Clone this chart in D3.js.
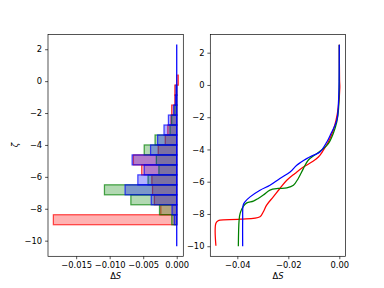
<!DOCTYPE html>
<html><head><meta charset="utf-8">
<script src="https://cdn.jsdelivr.net/npm/d3@7"></script>
<style>body{margin:0;background:#fff}svg{display:block;font-family:"DejaVu Sans",sans-serif}</style>
</head><body><svg id="c" width="384" height="288"></svg>
<script>
// ---- data ----
const zetaBins = [0.0625, -0.5625, -1.1875, -1.8125, -2.4375, -3.0625, -3.6875, -4.3125, -4.9375, -5.5625, -6.1875, -6.8125, -7.4375, -8.0625, -8.6875];
const binHeight = 0.625;
const redBars   = [0.00024, -0.00029, -0.00029, -0.00076, -0.00086, -0.00133, -0.00171, -0.00276, -0.00646, -0.00523, -0.00371, -0.00361, -0.00333, -0.00238, -0.0184];
const greenBars = [0, -0.00005, -0.0001, -0.00029, -0.00076, -0.001, -0.00323, -0.00485, -0.00304, -0.00266, -0.00428, -0.01078, -0.00684, -0.00257, -0.00074];
const blueBars  = [0, -0.0001, -0.00019, -0.00048, -0.00124, -0.0019, -0.00285, -0.0039, -0.00665, -0.00485, -0.0058, -0.0077, -0.0038, -0.0007, -0.00036];
const blueRefZeta = [2.29, -10.35];

const redZeta  = [2.5, 0.3, -0.15, -1.38, -2.2, -2.82, -3.54, -4.06, -4.47, -4.78, -5.09, -5.49, -5.91, -6.42, -6.94, -7.45, -7.86, -8.17, -8.32, -8.38, -8.42, -8.58, -9.97];
const redDS    = [0, 0.0001, 0.0002, -0.0004, -0.0013, -0.0024, -0.0043, -0.0063, -0.0082, -0.0108, -0.0141, -0.0174, -0.0206, -0.0233, -0.0259, -0.0285, -0.0298, -0.0311, -0.0389, -0.0468, -0.0475, -0.0484, -0.0484];
const greenZeta = [2.5, -1.5, -2.31, -3.02, -3.64, -3.95, -4.26, -4.67, -5.19, -5.80, -6.22, -6.38, -6.42, -6.52, -6.83, -7.04, -7.20, -7.31, -7.51, -7.96, -8.38, -10.0];
const greenDS   = [0, -0.0003, -0.0010, -0.0024, -0.0043, -0.0063, -0.0089, -0.0122, -0.0141, -0.0161, -0.0180, -0.0206, -0.0239, -0.0272, -0.0298, -0.0318, -0.0337, -0.0363, -0.0376, -0.0389, -0.0393, -0.0396];
const blueZeta = [2.5, 0, -1.0, -2.2, -3.13, -3.54, -4.16, -4.36, -4.57, -4.98, -5.40, -5.80, -6.22, -6.53, -6.94, -7.25, -7.45, -8.37, -10.0];
const blueDS   = [0, -0.0001, -0.0003, -0.0010, -0.0036, -0.0049, -0.0076, -0.0102, -0.0128, -0.0167, -0.0193, -0.0233, -0.0272, -0.0311, -0.0350, -0.0370, -0.0377, -0.0379, -0.0379];

const leftXTicks = [-0.015, -0.010, -0.005, 0.000];
const rightXTicks = [-0.04, -0.02, 0.00];
const yTicks = [2, 0, -2, -4, -6, -8, -10];

// ---- layout ----
const svg = d3.select("#c");
const plotTop = 34.56, plotBottom = 256.3;
const L = {x0: 48, x1: 183.3}, R = {x0: 210.3, x1: 345.6};
const fs = 8.33, tickLen = 2.92, lw = 1.25;
const fmtMinus = s => s.replace("-", "\u2212");

const xL = d3.scaleLinear().domain([-0.0192, 0.00098]).range([L.x0, L.x1]);
const yL = d3.scaleLinear().domain([-10.98, 2.92]).range([plotBottom, plotTop]);
const xR = d3.scaleLinear().domain([-0.0506, 0.00247]).range([R.x0, R.x1]);
const yR = d3.scaleLinear().domain([-10.625, 3.125]).range([plotBottom, plotTop]);

const colors = {red: "#ff0000", green: "#008000", blue: "#0000ff"};

// ---- left: bars ----
const gL = svg.append("g");
[["red", redBars], ["green", greenBars], ["blue", blueBars]].forEach(([c, vals]) => {
  gL.selectAll(null).data(zetaBins.map((z, i) => ({z, v: vals[i]}))).enter().append("rect")
    .attr("x", d => Math.min(xL(d.v), xL(0)))
    .attr("width", d => Math.abs(xL(d.v) - xL(0)))
    .attr("y", d => yL(d.z + binHeight / 2))
    .attr("height", d => yL(d.z - binHeight / 2) - yL(d.z + binHeight / 2))
    .attr("fill", colors[c]).attr("fill-opacity", 0.3)
    .attr("stroke", colors[c]).attr("stroke-opacity", 0.7).attr("stroke-width", lw);
});
gL.append("line").attr("x1", xL(0)).attr("x2", xL(0))
  .attr("y1", yL(blueRefZeta[0])).attr("y2", yL(blueRefZeta[1]))
  .attr("stroke", colors.blue).attr("stroke-width", lw);

// ---- right: lines ----
const gR = svg.append("g");
[["red", redZeta, redDS], ["green", greenZeta, greenDS], ["blue", blueZeta, blueDS]].forEach(([c, zs, vs]) => {
  const line = d3.line().x(d => xR(d[1])).y(d => yR(d[0])).curve(d3.curveCatmullRom.alpha(0.5));
  gR.append("path").datum(zs.map((z, i) => [z, vs[i]])).attr("d", line)
    .attr("fill", "none").attr("stroke", colors[c]).attr("stroke-width", lw);
});

// ---- axes ----
function axes(x, y, xt, fmt, box) {
  const gx = svg.append("g").attr("transform", `translate(0,${plotBottom})`)
    .call(d3.axisBottom(x).tickValues(xt).tickFormat(d => fmtMinus(d3.format(fmt)(d))).tickSizeOuter(0).tickSize(tickLen).tickPadding(tickLen));
  const gy = svg.append("g").attr("transform", `translate(${box.x0},0)`)
    .call(d3.axisLeft(y).tickValues(yTicks).tickFormat(d => fmtMinus(String(d))).tickSizeOuter(0).tickSize(tickLen).tickPadding(tickLen));
  [gx, gy].forEach(g => {
    g.select(".domain").remove();
    g.selectAll("line").attr("stroke", "#000").attr("stroke-width", 0.67);
    g.selectAll("text").attr("font-size", fs).attr("fill", "#000").attr("font-family", "DejaVu Sans");
  });
  svg.append("rect").attr("x", box.x0).attr("y", plotTop).attr("width", box.x1 - box.x0).attr("height", plotBottom - plotTop)
    .attr("fill", "none").attr("stroke", "#000").attr("stroke-width", 0.67);
  const xl = svg.append("text").attr("x", (box.x0 + box.x1) / 2).attr("y", 279).attr("text-anchor", "middle")
    .attr("font-size", fs).attr("font-family", "DejaVu Sans");
  xl.append("tspan").text("\u0394");
  xl.append("tspan").attr("font-style", "italic").text("S");
}
axes(xL, yL, leftXTicks, ".3f", L);
axes(xR, yR, rightXTicks, ".2f", R);

svg.append("text").attr("transform", "translate(18,145) rotate(-90)").attr("text-anchor", "middle")
  .attr("font-size", fs).attr("font-style", "italic").attr("font-family", "DejaVu Sans").text("\u03B6");
</script></body></html>
